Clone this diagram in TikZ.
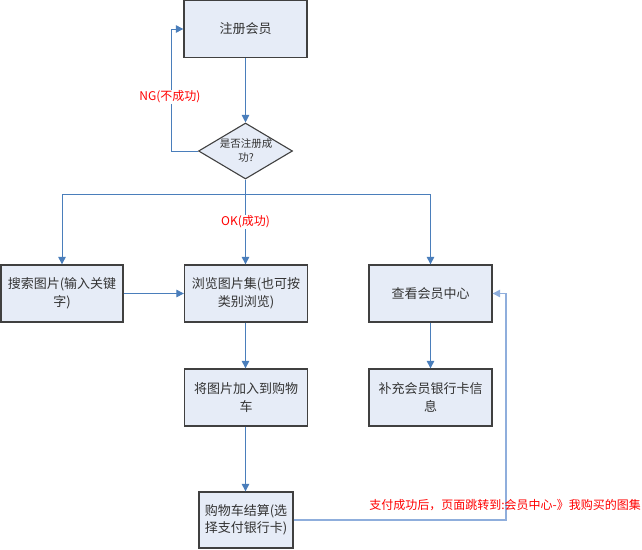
\documentclass[tikz,border=0pt]{standalone}
\usepackage{fontspec}
\setmainfont{Noto Sans CJK SC}
\usetikzlibrary{arrows.meta,shapes.geometric}
\definecolor{lineblue}{HTML}{4A7EBB}
\definecolor{fbblue}{HTML}{8FAEDC}
\definecolor{boxfill}{HTML}{E6ECF7}
\definecolor{boxdraw}{HTML}{404040}
\definecolor{txt}{HTML}{333333}
\begin{document}
\begin{tikzpicture}[x=1pt,y=-1pt,
  box/.style={draw=boxdraw, line width=1.3pt, fill=boxfill, minimum width=123pt, minimum height=57pt,
    align=center, inner sep=0pt, text=txt, font=\fontsize{13}{17.5}\selectfont},
  dia/.style={diamond, draw=boxdraw, line width=1.1pt, fill=boxfill, minimum width=94pt, minimum height=56pt, inner sep=0pt},
  diatext/.style={align=center, inner sep=0pt, text=txt, font=\fontsize{10.5}{14}\selectfont},
  conn/.style={draw=lineblue, line width=1pt, -{Triangle[length=7.5pt,width=7.5pt]}},
  fbconn/.style={draw=fbblue, line width=1.2pt, -{Triangle[length=7.5pt,width=7.5pt]}},
  lbl/.style={text=red, fill=white, inner sep=1pt, font=\fontsize{12}{14}\selectfont}]
\useasboundingbox (0,0) rectangle (642,549);

% nodes
\node[box] (reg) at (245.5,29) {注册会员};
\node[dia] (dec) at (245.5,151) {};
\node[diatext] (dectext) at (246,150) {是否注册成\\功?};
\node[box, minimum width=122pt] (search) at (62,293.5) {搜索图片(输入关键\\字)};
\node[box] (browse) at (246,293.5) {浏览图片集(也可按\\类别浏览)};
\node[box] (member) at (430.5,293.5) {查看会员中心};
\node[box] (cart) at (246,397.5) {将图片加入到购物\\车};
\node[box] (bank) at (430.5,397.5) {补充会员银行卡信\\息};
\node[box, minimum width=94pt, minimum height=56pt] (pay) at (246,520) {购物车结算(选\\择支付银行卡)};

% helper coordinates
\coordinate (ngc) at (171,29);
\coordinate (branch) at (245.5,194);
\coordinate (fbc) at (506,293.5);

% connectors
\draw[conn] (reg.south -| dec.north) -- (dec.north);
\draw[conn] (dec.west) -| (ngc) -- (reg.west);
\draw[conn] (dec.south) -- (browse.north -| dec.south);
\draw[conn] (branch) -| (search.north);
\draw[conn] (branch) -| (member.north);
\draw[conn] (search.east) -- (browse.west);
\draw[conn] (browse.south -| dec.south) -- (cart.north -| dec.south);
\draw[conn] (cart.south -| dec.south) -- (pay.north -| dec.south);
\draw[conn] (member.south) -- (bank.north);
\draw[fbconn] (pay.east) -| (fbc) -- (member.east);

% labels
\node[lbl] (nglbl) at (170,97) {NG(不成功)};
\node[lbl] (oklbl) at (245.5,222) {OK(成功)};
\node[lbl, fill=none] (fblbl) at (505,505) {支付成功后，页面跳转到:会员中心-》我购买的图集};
\end{tikzpicture}
\end{document}
